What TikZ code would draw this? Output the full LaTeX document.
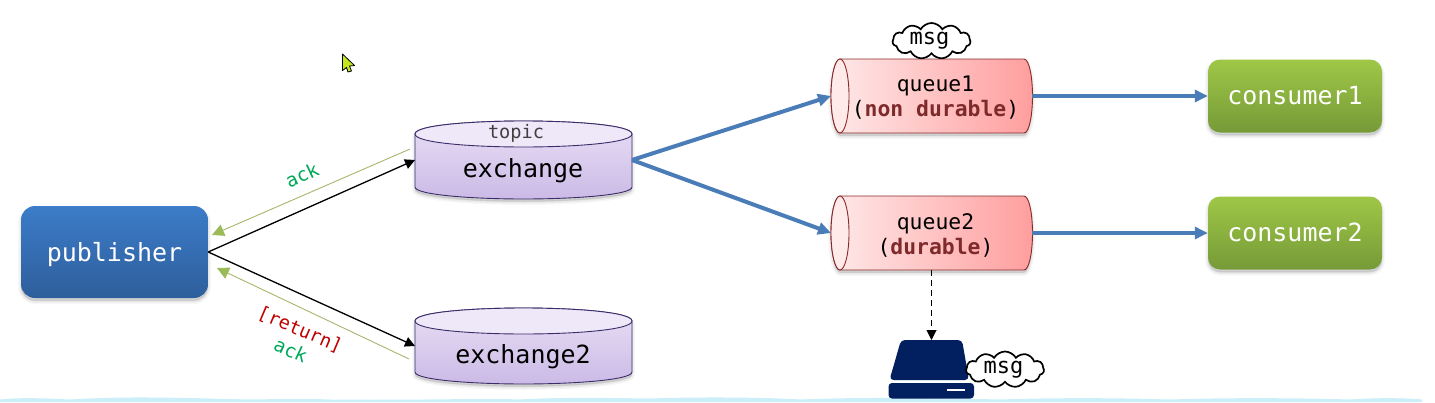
\documentclass[tikz,border=0pt]{standalone}
\usepackage{fontspec}
\setmainfont{DejaVu Sans}
\newfontfamily\dvmono{DejaVu Sans Mono}
\usetikzlibrary{arrows.meta,shapes.symbols}
\definecolor{pubtop}{HTML}{3C7CC8}
\definecolor{pubbot}{HTML}{2E5E9C}
\definecolor{contop}{HTML}{9FC746}
\definecolor{conbot}{HTML}{769A38}
\definecolor{exline}{HTML}{3A2C68}
\definecolor{extop}{HTML}{E8DFF5}
\definecolor{exbot}{HTML}{CBBAE6}
\definecolor{exlid}{HTML}{EFE8F9}
\definecolor{qline}{HTML}{872A2A}
\definecolor{qlight}{HTML}{FFE9E9}
\definecolor{qdark}{HTML}{FF9E9E}
\definecolor{qbold}{HTML}{7E2A2A}
\definecolor{flowblue}{HTML}{4A7DB8}
\definecolor{ackline}{HTML}{A9B56A}
\definecolor{acktip}{HTML}{9BBB59}
\definecolor{ackgreen}{HTML}{00A859}
\definecolor{retred}{HTML}{C00000}
\definecolor{disknavy}{HTML}{02205F}
\definecolor{wave}{HTML}{CBEEF9}
\definecolor{lime}{HTML}{C4E820}
\tikzset{
  softshadow/.style={
    preaction={fill=black,fill opacity=.03,draw=black,draw opacity=.03,line width=6pt,transform canvas={yshift=-3pt}},
    preaction={fill=black,fill opacity=.05,draw=black,draw opacity=.05,line width=3pt,transform canvas={yshift=-3pt}},
    preaction={fill=black,fill opacity=.07,transform canvas={yshift=-2.5pt}}},
  box/.style={rectangle,rounded corners=14pt,softshadow,text=white,inner sep=0pt,
    font=\dvmono\fontsize{25}{30}\selectfont},
  pubbox/.style={box,minimum width=187pt,minimum height=92pt,top color=pubtop,bottom color=pubbot},
  conbox/.style={box,rounded corners=12pt,minimum width=174pt,minimum height=73pt,top color=contop,bottom color=conbot},
  anchorbox/.style={rectangle,inner sep=0pt,outer sep=0pt},
  drumbox/.style={anchorbox,minimum width=217pt,minimum height=78pt},
  tubebox/.style={anchorbox,minimum width=201pt,minimum height=74pt},
  disklabel/.style={font=\dvmono\fontsize{25}{30}\selectfont,text=black,inner sep=0pt},
  smalllabel/.style={font=\dvmono\fontsize{18.6}{22}\selectfont,text=black!75,inner sep=0pt},
  queuetext/.style={font=\dvmono\fontsize{21.4}{25}\selectfont,text=black,align=center,inner sep=0pt},
  msgcloud/.style={cloud,cloud puffs=11,cloud puff arc=120,aspect=2.2,draw=black,line width=1.7pt,fill=white,
    inner sep=0pt,minimum width=78pt,minimum height=36pt,font=\dvmono\fontsize{22}{25}\selectfont},
  flow/.style={draw=flowblue,line width=4pt,-{Triangle[length=13pt,width=12pt]}},
  pubflow/.style={draw=black,line width=1.3pt,-{Triangle[length=10pt,width=10pt]}},
  ackflow/.style={draw=ackline,line width=.9pt,-{Triangle[length=12pt,width=12pt,fill=acktip,color=acktip]}},
  acklabel/.style={font=\dvmono\fontsize{19}{22}\selectfont,text=ackgreen,inner sep=0pt},
  retlabel/.style={font=\dvmono\fontsize{18.6}{22}\selectfont,text=retred,inner sep=0pt},
}
% horizontal-axis drum: center x, center y, half height
\newcommand\drumshape[3]{%
  \path[softshadow,top color=extop,bottom color=exbot,draw=exline,line width=.9pt]
    (#1-108.5,#2-#3+13) -- (#1-108.5,#2+#3-12)
    .. controls (#1-108.5,#2+#3-4) and (#1-50,#2+#3) .. (#1,#2+#3)
    .. controls (#1+50,#2+#3) and (#1+108.5,#2+#3-4) .. (#1+108.5,#2+#3-12)
    -- (#1+108.5,#2-#3+13)
    .. controls (#1+108.5,#2-#3+4) and (#1+50,#2-#3) .. (#1,#2-#3)
    .. controls (#1-50,#2-#3) and (#1-108.5,#2-#3+4) .. (#1-108.5,#2-#3+13) -- cycle;
  \path[fill=exlid,draw=exline,line width=.9pt]
    (#1-108.5,#2-#3+13)
    .. controls (#1-108.5,#2-#3+4) and (#1-50,#2-#3) .. (#1,#2-#3)
    .. controls (#1+50,#2-#3) and (#1+108.5,#2-#3+4) .. (#1+108.5,#2-#3+13)
    .. controls (#1+108.5,#2-#3+22) and (#1+50,#2-#3+26) .. (#1,#2-#3+26)
    .. controls (#1-50,#2-#3+26) and (#1-108.5,#2-#3+22) .. (#1-108.5,#2-#3+13) -- cycle;
}
% lying tube: center y
\newcommand\tubeshape[1]{%
  \path[softshadow,left color=qlight,right color=qdark,draw=qline,line width=.9pt]
    (840,#1-37) -- (1024,#1-37)
    .. controls (1029,#1-37) and (1032.5,#1-20) .. (1032.5,#1)
    .. controls (1032.5,#1+20) and (1029,#1+37) .. (1024,#1+37)
    -- (840,#1+37)
    .. controls (835,#1+37) and (831,#1+20) .. (831,#1)
    .. controls (831,#1-20) and (835,#1-37) .. (840,#1-37) -- cycle;
  \path[fill=qlight,draw=qline,line width=.9pt]
    (840,#1-37)
    .. controls (845,#1-37) and (849,#1-20) .. (849,#1)
    .. controls (849,#1+20) and (845,#1+37) .. (840,#1+37)
    .. controls (835,#1+37) and (831,#1+20) .. (831,#1)
    .. controls (831,#1-20) and (835,#1-37) .. (840,#1-37) -- cycle;
}
\begin{document}
\begin{tikzpicture}[x=1pt,y=-1pt]
\useasboundingbox (0,0) rectangle (1435,402);
% water line along the lower edge
\fill[wave] (0,402) -- (0,399.5) .. controls (20,397.5) and (40,398) .. (70,399.5)
  .. controls (110,397) and (150,397) .. (210,398.5)
  .. controls (260,400.5) and (290,398) .. (330,399.5)
  .. controls (420,400.5) and (480,398) .. (520,399.5)
  .. controls (560,397) and (610,398) .. (650,398.5)
  .. controls (690,397) and (760,397) .. (800,399.5)
  .. controls (860,397) and (930,398) .. (1000,399.5)
  .. controls (1060,397.5) and (1120,398) .. (1170,399.5)
  .. controls (1230,397.5) and (1300,398) .. (1350,399.5)
  .. controls (1380,397.5) and (1405,398) .. (1422,399.5) -- (1422,402) -- cycle;
% pointer
\path[fill=lime,draw=black,line width=.8pt,line join=round]
  (342.5,54) -- (354.5,65.5) -- (349.5,66) -- (351.5,71) -- (348,72) -- (346.5,67.5) -- (342.5,70.5) -- cycle;
% shapes
\drumshape{523.5}{160}{39}
\drumshape{523.5}{346}{38}
\tubeshape{96}
\tubeshape{233}
\node[pubbox] (pub) at (114.5,252) {\raisebox{-9pt}[0pt][0pt]{publisher}};
\node[conbox] (con1) at (1295,96) {\raisebox{-8.5pt}[0pt][0pt]{consumer1}};
\node[conbox] (con2) at (1295,233) {\raisebox{-8.5pt}[0pt][0pt]{consumer2}};
\node[drumbox] (ex1) at (523.5,160) {};
\node[drumbox,minimum height=76pt] (ex2) at (523.5,346) {};
\node[tubebox] (q1) at (931.5,96) {};
\node[tubebox] (q2) at (931.5,233) {};
\node[disklabel] (ex1t) at (523,170.5) {exchange};
\node[smalllabel] (ex1k) at (516,133) {topic};
\node[disklabel] (ex2t) at (523,356.5) {exchange2};
\node[queuetext] (q1t) at (935.5,98) {queue1\\(\textbf{\textcolor{qbold}{non durable}})};
\node[queuetext] (q2t) at (935.5,235) {queue2\\(\textbf{\textcolor{qbold}{durable}})};
% drive
\node[anchorbox,minimum width=85pt,minimum height=58pt] (disk) at (931.5,369) {};
\fill[disknavy,rounded corners=4pt] (901,340) -- (962,340) -- (969,380) -- (889.5,380) -- cycle;
\fill[disknavy,rounded corners=3.5pt] (888.5,383) rectangle (974,398.5);
\fill[white] (947,388.5) rectangle (965,391);
% clouds
\node[msgcloud] (m1) at (931.5,41) {\hspace{-4pt}msg};
\node[msgcloud] (m2) at (1005,369.5) {\hspace{-3pt}msg};
% connectors
\coordinate (a1s) at (410,149);
\coordinate (a1e) at (212,235);
\coordinate (a2s) at (409,359);
\coordinate (a2e) at (217,268);
\draw[ackflow] (a1s) -- (a1e);
\draw[ackflow] (a2s) -- (a2e);
\draw[pubflow] (pub.east) -- (ex1.west);
\draw[pubflow] (pub.east) -- (ex2.west);
\draw[flow] (ex1.east) -- (q1.west);
\draw[flow] (ex1.east) -- (q2.west);
\draw[flow] (q1.east) -- (con1.west);
\draw[flow] (q2.east) -- (con2.west);
\draw[draw=black,line width=1pt,dash pattern=on 6pt off 4pt,-{Triangle[length=10pt,width=10pt]}] (q2.south) -- (disk.north);
% labels
\node[acklabel,rotate=25] (l1) at (302,175) {ack};
\node[retlabel,rotate=-23] (l2) at (300,330) {[return]};
\node[acklabel,rotate=-25] (l3) at (291,350) {ack};
\end{tikzpicture}
\end{document}
